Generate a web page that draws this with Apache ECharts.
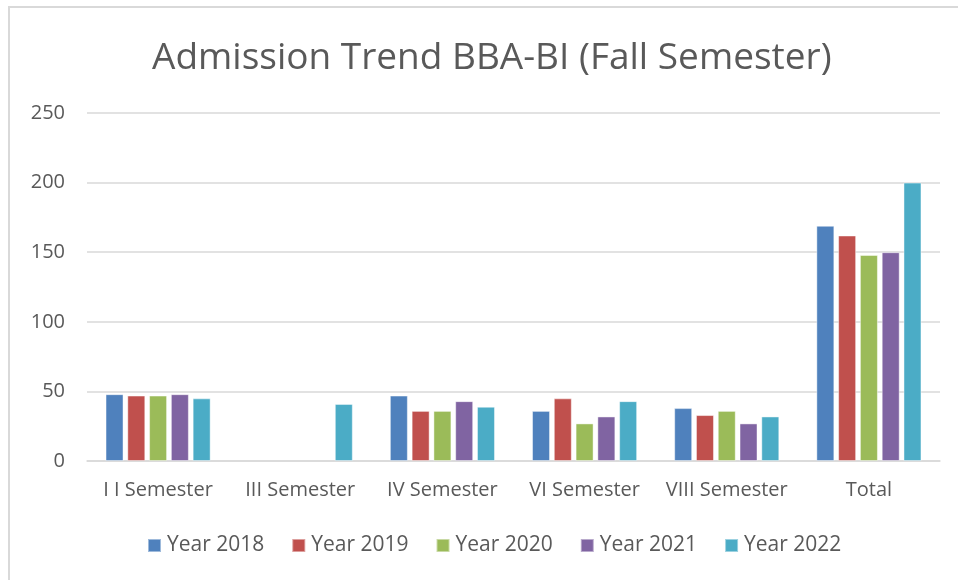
<!DOCTYPE html>
<html>
<head>
<meta charset="utf-8">
<script src="https://cdn.jsdelivr.net/npm/echarts@6/dist/echarts.min.js"></script>
<style>
  html, body { margin: 0; padding: 0; background: #fff; }
  #chart { width: 958px; height: 580px; }
</style>
</head>
<body>
<div id="chart"></div>
<script>
// data
const categories = ['I I Semester', 'III Semester', 'IV Semester', 'VI Semester', 'VIII Semester', 'Total'];
const years = ['Year 2018', 'Year 2019', 'Year 2020', 'Year 2021', 'Year 2022'];
const y2018 = [48, '-', 47, 36, 38, 169];
const y2019 = [47, '-', 36, 45, 33, 162];
const y2020 = [47, '-', 36, 27, 36, 148];
const y2021 = [48, '-', 43, 32, 27, 150];
const y2022 = [45, 41, 39, 43, 32, 200];
const yTicks = [0, 50, 100, 150, 200, 250];

const colors = ['#4F81BD', '#C0504D', '#9BBB59', '#8064A2', '#4BACC6'];
const seriesData = [y2018, y2019, y2020, y2021, y2022];
const textColor = '#595959';
const font = '"Open Sans", sans-serif';

let chart = echarts.init(document.getElementById('chart'));

let option = {
    animation: false,
    color: colors,
    title: {
        text: 'Admission Trend BBA-BI (Fall Semester)',
        left: 147,
        top: 35,
        textStyle: {
            color: textColor,
            fontWeight: 'normal',
            fontSize: 37,
            fontFamily: font
        }
    },
    legend: {
        bottom: 19,
        left: 142,
        itemWidth: 13,
        itemHeight: 13,
        itemGap: 27,
        icon: 'rect',
        textStyle: { color: textColor, fontSize: 21, fontFamily: font, padding: [0, 0, 0, 1] },
        data: years
    },
    grid: { left: 87, right: 18, top: 113, bottom: 119, containLabel: false },
    xAxis: {
        type: 'category',
        data: categories,
        axisLine: { lineStyle: { color: '#d9d9d9', width: 1.5 } },
        axisTick: { show: false },
        axisLabel: { color: textColor, fontSize: 20, fontFamily: font, margin: 19, interval: 0 }
    },
    yAxis: {
        type: 'value',
        min: yTicks[0],
        max: yTicks[yTicks.length - 1],
        interval: 50,
        axisLine: { show: false },
        axisTick: { show: false },
        splitLine: { lineStyle: { color: '#d9d9d9', width: 1.5 } },
        axisLabel: { color: textColor, fontSize: 20, fontFamily: font, margin: 22 }
    },
    graphic: [
        { type: 'line', shape: { x1: 8, y1: 7, x2: 958, y2: 7 }, style: { stroke: '#d9d9d9', lineWidth: 2 } },
        { type: 'line', shape: { x1: 9, y1: 6, x2: 9, y2: 580 }, style: { stroke: '#d9d9d9', lineWidth: 2 } }
    ],
    series: years.map((name, i) => ({
        name: name,
        type: 'bar',
        data: seriesData[i],
        barWidth: 18,
        barGap: '21%',
        itemStyle: { color: colors[i], borderColor: 'rgba(255,255,255,0.45)', borderWidth: 1 }
    }))
};

chart.setOption(option);
</script>
</body>
</html>
